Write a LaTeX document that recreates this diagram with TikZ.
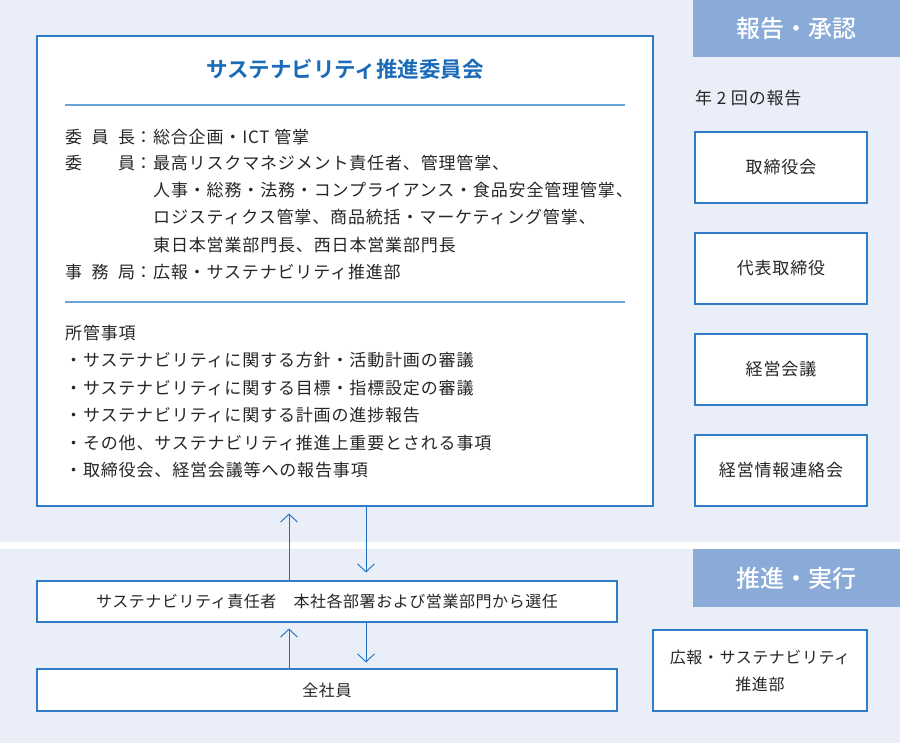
\documentclass[tikz,border=0pt]{standalone}
\usepackage{fontspec}
\setmainfont{Noto Sans CJK JP}[BoldFont={Noto Sans CJK JP Bold}]
\newfontfamily\jpt{Noto Sans CJK JP Bold}
\newfontfamily\jpm{Noto Sans CJK JP Medium}
\newfontfamily\jpb{Noto Sans CJK JP}[LetterSpace=5]
\newfontfamily\jpc{Noto Sans CJK JP}[LetterSpace=3.5]
\usetikzlibrary{arrows.meta}
\definecolor{bgband}{HTML}{E9EEF8}
\definecolor{hdrbox}{HTML}{8AAAD8}
\definecolor{boxline}{HTML}{2F7DC8}
\definecolor{sepline}{HTML}{6AA3D8}
\definecolor{titleblue}{HTML}{1A6BB8}
\definecolor{arrowblue}{HTML}{1C6FC0}
\definecolor{txt}{HTML}{262626}
\begin{document}
\begin{tikzpicture}[x=1pt,y=-1pt,
  wbox/.style={draw=boxline,line width=1.1pt,fill=white,rectangle,inner sep=0pt},
  hdr/.style={fill=hdrbox,rectangle,inner sep=0pt,text=white,font=\jpm\fontsize{24}{26}\selectfont},
  body/.style={inner sep=0pt,anchor=base west,text=txt,font=\jpb\fontsize{17}{19}\selectfont},
  boxtxt/.style={inner sep=0pt,text=txt,font=\jpb\fontsize{17}{19}\selectfont},
  smalltxt/.style={inner sep=0pt,text=txt,font=\jpc\fontsize{16}{27}\selectfont,align=center},
  arr/.style={draw=arrowblue,line width=0.9pt,-{Straight Barb[length=8pt,width=17pt,line width=0.9pt]}},
  sep/.style={draw=sepline,line width=1.6pt}]
\useasboundingbox (0,0) rectangle (900,743);
% background bands
\fill[bgband] (0,0) rectangle (900,542);
\fill[white] (0,542) rectangle (900,549);
\fill[bgband] (0,549) rectangle (900,743);
% headers
\node[hdr,minimum width=207pt,minimum height=57pt] (h1) at (796.5,28.5) {報告・承認};
\node[hdr,minimum width=207pt,minimum height=58pt] (h2) at (796.5,578) {推進・実行};
% main committee box
\node[wbox,minimum width=616pt,minimum height=470pt] (main) at (345,271) {};
\node[inner sep=0pt,text=titleblue,font=\jpt\fontsize{21.5}{24}\selectfont] (title) at (345,69.5) {サステナビリティ推進委員会};
\coordinate (sl1) at (65,105);
\coordinate (sr1) at (625,105);
\coordinate (sl2) at (65,302);
\coordinate (sr2) at (625,302);
\draw[sep] (sl1) -- (sr1);
\draw[sep] (sl2) -- (sr2);
% members
\node[body] (l1) at (65,143.5) {\makebox[70pt][s]{委\hfill 員\hfill 長}：総合企画・ICT 管掌};
\node[body] (l2) at (65,169.5) {\makebox[70pt][s]{委\hfill 員}：最高リスクマネジメント責任者、管理管掌、};
\node[body] (l3) at (153,196.5) {人事・総務・法務・コンプライアンス・食品安全管理管掌、};
\node[body] (l4) at (153,223.5) {ロジスティクス管掌、商品統括・マーケティング管掌、};
\node[body] (l5) at (153,251.5) {東日本営業部門長、西日本営業部門長};
\node[body] (l6) at (65,278.5) {\makebox[70pt][s]{事\hfill 務\hfill 局}：広報・サステナビリティ推進部};
% duties
\node[body] (d0) at (65,339.5) {所管事項};
\node[body] (d1) at (65,366.5) {・サステナビリティに関する方針・活動計画の審議};
\node[body] (d2) at (65,394.5) {・サステナビリティに関する目標・指標設定の審議};
\node[body] (d3) at (65,421.5) {・サステナビリティに関する計画の進捗報告};
\node[body] (d4) at (65,449.5) {・その他、サステナビリティ推進上重要とされる事項};
\node[body] (d5) at (65,476.5) {・取締役会、経営会議等への報告事項};
% right column
\node[body] (rep) at (695,104.5) {年 2 回の報告};
\node[wbox,minimum width=172pt,minimum height=71pt,boxtxt] (b1) at (781,167.5) {取締役会};
\node[wbox,minimum width=172pt,minimum height=71pt,boxtxt] (b2) at (781,268.5) {代表取締役};
\node[wbox,minimum width=172pt,minimum height=71pt,boxtxt] (b3) at (781,369.5) {経営会議};
\node[wbox,minimum width=172pt,minimum height=71pt,boxtxt] (b4) at (781,470.5) {経営情報連絡会};
% bottom boxes
\node[wbox,minimum width=580pt,minimum height=41pt,smalltxt] (resp) at (327,601.5) {サステナビリティ責任者　本社各部署および営業部門から選任};
\node[wbox,minimum width=580pt,minimum height=42pt,smalltxt] (all) at (327,690) {全社員};
\node[wbox,minimum width=214pt,minimum height=81pt,smalltxt] (pr) at (760,670.5) {広報・サステナビリティ\\推進部};
% arrows
\coordinate (ua) at (289,0);
\coordinate (da) at (366,0);
\draw[arr,shorten >=7pt] (resp.north -| ua) -- (main.south -| ua);
\draw[arr,shorten >=8pt] (main.south -| da) -- (resp.north -| da);
\draw[arr,shorten >=6pt] (all.north -| ua) -- (resp.south -| ua);
\draw[arr,shorten >=6pt] (resp.south -| da) -- (all.north -| da);
\end{tikzpicture}
\end{document}
